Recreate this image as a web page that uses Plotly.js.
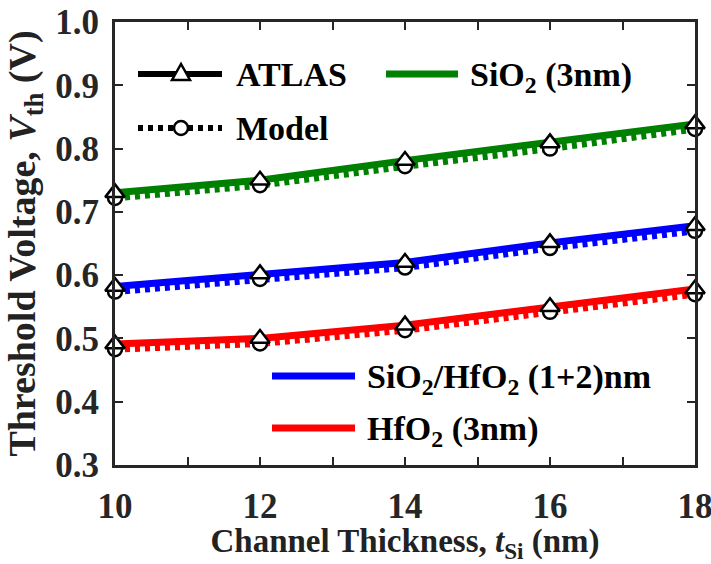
<!DOCTYPE html>
<html>
<head>
<meta charset="utf-8">
<script src="https://cdn.plot.ly/plotly-3.0.1.min.js"></script>
<style>
html,body{margin:0;padding:0;background:#fff;overflow:hidden;}
#chart{width:711px;height:564px;}
</style>
</head>
<body>
<div id="chart"></div>
<script>
// ---- data ----
const thickness = [10, 12, 14, 16, 18];
const sio2Atlas  = [0.730, 0.750, 0.781, 0.809, 0.839];
const sio2Model  = [0.722, 0.742, 0.772, 0.800, 0.831];
const stackAtlas = [0.582, 0.602, 0.620, 0.651, 0.678];
const stackModel = [0.574, 0.594, 0.612, 0.643, 0.670];
const hfo2Atlas  = [0.491, 0.500, 0.521, 0.550, 0.578];
const hfo2Model  = [0.483, 0.492, 0.513, 0.542, 0.570];
const xTicks = [10, 12, 14, 16, 18];
const yTicks = [0.3, 0.4, 0.5, 0.6, 0.7, 0.8, 0.9, 1.0];

const seriesNames = ["SiO<sub>2</sub> (3nm)", "SiO<sub>2</sub>/HfO<sub>2</sub> (1+2)nm", "HfO<sub>2</sub> (3nm)"];
const seriesColors = ["#008000", "#0000ff", "#ff0000"];
const atlasSets = [sio2Atlas, stackAtlas, hfo2Atlas];
const modelSets = [sio2Model, stackModel, hfo2Model];

const FONT = "Liberation Serif";
const INK = "#262626";
const LW = 7;

const traces = [];
// model lines (dotted)
modelSets.forEach((ys, i) => traces.push({
  x: thickness, y: ys, type: "scatter", mode: "lines", showlegend: false,
  line: {color: seriesColors[i], width: LW, dash: "5px,5px"}, cliponaxis: false
}));
// ATLAS lines (solid)
atlasSets.forEach((ys, i) => traces.push({
  x: thickness, y: ys, type: "scatter", mode: "lines", showlegend: false,
  line: {color: seriesColors[i], width: LW}, cliponaxis: false
}));
// model markers (circles)
modelSets.forEach((ys, i) => traces.push({
  x: thickness, y: ys, type: "scatter", mode: "markers", showlegend: false,
  marker: {symbol: "circle", size: 14, color: "#fff", line: {color: "#000", width: 2.5}}, cliponaxis: false
}));
// ATLAS markers (triangles)
atlasSets.forEach((ys, i) => traces.push({
  x: thickness, y: ys, type: "scatter", mode: "markers", showlegend: false,
  marker: {symbol: "triangle-up", size: 17, color: "#fff", line: {color: "#000", width: 2.5}}, cliponaxis: false
}));

// ---- custom legend (layout decorations) ----
const W = 711, H = 564, ML = 115, MR = 16, MT = 22, MB = 99;
const PW = W - ML - MR, PH = H - MT - MB;
const px = x => (x - ML) / PW;
const py = y => (H - MB - y) / PH;

const shapes = [];
const annotations = [];
function legLine(x0, x1, y, color, width, dash) {
  shapes.push({type: "line", xref: "paper", yref: "paper", x0: px(x0), x1: px(x1), y0: py(y), y1: py(y),
    line: {color: color, width: width, dash: dash || "solid"}});
}
function legText(x, y, text) {
  annotations.push({xref: "paper", yref: "paper", x: px(x), y: py(y), xanchor: "left", yanchor: "middle",
    align: "left", text: text, showarrow: false, font: {family: FONT, size: 34, color: "#000", weight: "bold"}});
}
// ATLAS
legLine(138, 222, 74, "#000", 6);
shapes.push({type: "path", xref: "paper", yref: "paper",
  path: `M ${px(181)} ${py(64)} L ${px(172)} ${py(80)} L ${px(190)} ${py(80)} Z`,
  fillcolor: "#fff", line: {color: "#000", width: 2.5}});
legText(234, 74, "ATLAS");
// Model
legLine(138, 222, 128, "#000", 6, "5px,5px");
shapes.push({type: "circle", xref: "paper", yref: "paper",
  x0: px(174), x1: px(188), y0: py(121), y1: py(135),
  fillcolor: "#fff", line: {color: "#000", width: 2.5}});
legText(234, 128, "Model");
// SiO2
legLine(386, 458, 74, seriesColors[0], LW);
legText(468, 77, seriesNames[0]);
// stack
legLine(272, 355, 376, seriesColors[1], LW);
legText(365, 379, seriesNames[1]);
// HfO2
legLine(272, 355, 428, seriesColors[2], LW);
legText(365, 431, seriesNames[2]);

const axisCommon = {
  showline: true, linecolor: INK, linewidth: 3, mirror: "ticks",
  ticks: "inside", ticklen: 8, tickwidth: 2, tickcolor: INK,
  showgrid: false, zeroline: false, ticklabeloverflow: "allow",
  tickfont: {family: FONT, size: 35, color: INK, weight: "bold"}
};

const layout = {
  width: W, height: H,
  margin: {l: ML, r: MR, t: MT, b: MB},
  paper_bgcolor: "#fff", plot_bgcolor: "#fff",
  showlegend: false,
  font: {family: FONT},
  xaxis: Object.assign({}, axisCommon, {
    range: [10, 18], tickvals: xTicks, ticktext: xTicks.map(String),
    ticklabelstandoff: 8,
    minor: {dtick: 1, ticks: "inside", ticklen: 8, tickwidth: 2, tickcolor: INK},
    title: {text: "Channel Thickness, <i>t</i><sub>Si</sub> (nm)", standoff: 9,
      font: {family: FONT, size: 33, color: "#222", weight: "bold"}}
  }),
  yaxis: Object.assign({}, axisCommon, {
    range: [0.3, 1.0], tickvals: yTicks, ticktext: yTicks.map(v => v.toFixed(1)),
    ticklabelstandoff: 6,
    title: {text: "Threshold Voltage, <i>V</i><sub>th</sub> (V)", standoff: 8,
      font: {family: FONT, size: 38, color: "#222", weight: "bold"}}
  }),
  shapes: shapes,
  annotations: annotations
};

const config = {displayModeBar: false};
Plotly.newPlot("chart", traces, layout, config);
</script>
</body>
</html>
